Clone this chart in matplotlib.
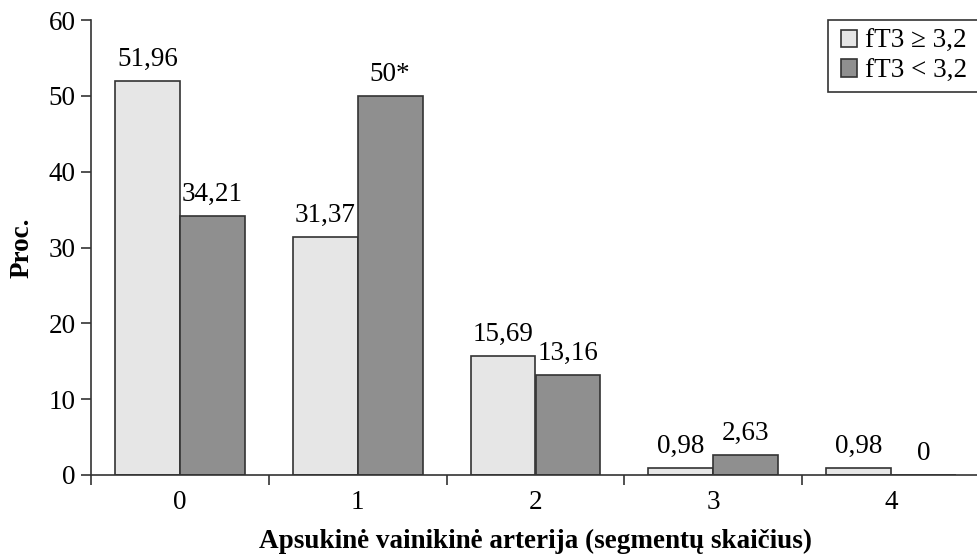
import matplotlib
matplotlib.use("Agg")
import matplotlib.pyplot as plt
from matplotlib.patches import Rectangle
import numpy as np

categories = ["0", "1", "2", "3", "4"]
high_fT3 = [51.96, 31.37, 15.69, 0.98, 0.98]
low_fT3 = [34.21, 50, 13.16, 2.63, 0]
high_labels = ["51,96", "31,37", "15,69", "0,98", "0,98"]
low_labels = ["34,21", "50*", "13,16", "2,63", "0"]
series_names = ["fT3 \u2265 3,2", "fT3 < 3,2"]
yticks = [0, 10, 20, 30, 40, 50, 60]

plt.rcParams['font.family'] = ['Liberation Serif', 'DejaVu Serif']
W, H = 977, 557
fig = plt.figure(figsize=(W/100, H/100), dpi=100)
left, right, top, bottom = 91, 980, 20, 475
ax = fig.add_axes([left/W, 1-bottom/H, (right-left)/W, (bottom-top)/H])

x = np.arange(len(categories))
bw = 0.365
light = "#e6e6e6"
dark = "#8f8f8f"
edge = "#333333"
b1 = ax.bar(x - bw/2, high_fT3, bw, color=light, edgecolor=edge, linewidth=1.2)
b2 = ax.bar(x + bw/2, low_fT3, bw, color=dark, edgecolor=edge, linewidth=1.2)

fs = 19.5
for rect, lab in zip(b1, high_labels):
    ax.annotate(lab, (rect.get_x()+rect.get_width()/2, rect.get_height()),
                xytext=(0, 6.5), textcoords="offset points", ha="center", va="bottom", fontsize=fs)
for rect, lab in zip(b2, low_labels):
    ax.annotate(lab, (rect.get_x()+rect.get_width()/2, rect.get_height()),
                xytext=(0, 6.5), textcoords="offset points", ha="center", va="bottom", fontsize=fs)

ax.set_xlim(-0.5, len(categories) - 0.5)
ax.set_ylim(0, 60)
ax.set_yticks(yticks)
ax.set_yticklabels([str(t) for t in yticks], fontsize=fs)
ax.set_xticks(x)
ax.set_xticklabels(categories, fontsize=fs)
ax.tick_params(axis='x', which='major', length=0, pad=11)
ax.set_xticks(np.arange(len(categories)+1) - 0.5, minor=True)
ax.tick_params(axis='x', which='minor', length=7, width=1.2, color=edge, direction='out')
ax.tick_params(axis='y', length=7, width=1.2, color=edge, direction='out', pad=4)
for s in ["top", "right"]:
    ax.spines[s].set_visible(False)
for s in ["left", "bottom"]:
    ax.spines[s].set_color(edge)
    ax.spines[s].set_linewidth(1.2)

ax.set_ylabel("Proc.", fontsize=fs, fontweight="bold", labelpad=10)
ax.set_xlabel("Apsukinė vainikinė arterija (segmentų skaičius)", fontsize=fs, fontweight="bold", labelpad=10)

# legend frame extending past the right edge, as in the reference
frame = Rectangle((828/W, 1-92/H), 170/W, 72/H, transform=fig.transFigure,
                  facecolor="white", edgecolor=edge, linewidth=1.2, zorder=5)
fig.add_artist(frame)
leg = fig.legend([b1, b2], series_names, loc="upper left",
                 bbox_to_anchor=(841/W, 1-29/H), fontsize=fs, frameon=False,
                 handlelength=0.6, handleheight=0.6, handletextpad=0.3, borderpad=0,
                 labelspacing=0.17, borderaxespad=0)
leg.set_zorder(6)

fig.savefig("out.png", dpi=100)
